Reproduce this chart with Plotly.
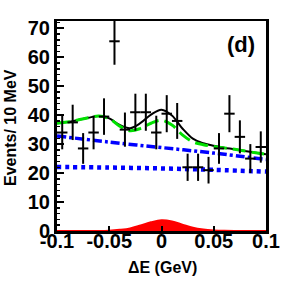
import plotly.graph_objects as go

# data points (bin centres, counts, errors)
bin_x = [-0.095, -0.085, -0.075, -0.065, -0.055, -0.045, -0.035, -0.025, -0.015, -0.005,
         0.005, 0.015, 0.025, 0.035, 0.045, 0.055, 0.065, 0.075, 0.085, 0.095]
counts = [34, 37.5, 28.5, 34, 39.5, 65.5, 35, 41, 41, 34,
          40.5, 38, 22, 22, 21, 28.5, 40.5, 32.5, 25, 29]
errors = [5.8, 6.1, 5.3, 5.8, 6.3, 8.1, 5.9, 6.4, 6.4, 5.8,
          6.4, 6.2, 4.7, 4.7, 4.6, 5.3, 6.4, 5.7, 5.0, 5.4]
half_bin = [0.005] * len(bin_x)

# fit curves
curve_x = [-0.10, -0.09, -0.08, -0.07, -0.06, -0.05, -0.04, -0.03, -0.02, -0.01, 0.00,
           0.01, 0.02, 0.03, 0.04, 0.05, 0.06, 0.07, 0.08, 0.09, 0.10]
green_y = [37.2, 37.6, 38.3, 39.1, 39.7, 38.8, 36.2, 34.6, 35.4, 37.2, 38.2,
           36.6, 33.2, 30.8, 29.8, 29.2, 28.7, 28.2, 27.6, 27.0, 26.5]
signal_y = [0, 0, 0, 0, 0, 0.1, 0.4, 0.9, 1.9, 3.0, 3.7,
            3.3, 2.2, 1.1, 0.5, 0.2, 0.05, 0, 0, 0, 0]
total_y = [g + s for g, s in zip(green_y, signal_y)]

bkg_x = [-0.1, -0.05, 0.0, 0.05, 0.1]
bkg_dashdot = [32.8, 30.7, 28.8, 26.9, 24.7]
bkg_dotted = [22.1, 21.9, 21.6, 21.1, 20.5]

xtick_vals = [-0.1, -0.05, 0, 0.05, 0.1]
xtick_text = ["-0.1", "-0.05", "0", "0.05", "0.1"]
ytick_vals = [0, 10, 20, 30, 40, 50, 60, 70]

FONT = "Liberation Sans"

fig = go.Figure()
fig.add_trace(go.Scatter(x=curve_x, y=signal_y, mode="lines", line=dict(color="red", width=2, shape="spline"),
                         fill="tozeroy", fillcolor="red", hoverinfo="skip"))
fig.add_trace(go.Scatter(x=bkg_x, y=bkg_dotted, mode="lines",
                         line=dict(color="blue", width=4.5, dash="4px,4px", shape="spline")))
fig.add_trace(go.Scatter(x=bkg_x, y=bkg_dashdot, mode="lines",
                         line=dict(color="blue", width=3.5, dash="9px,3px,3px,3px", shape="spline")))
fig.add_trace(go.Scatter(x=curve_x, y=total_y, mode="lines",
                         line=dict(color="black", width=2, shape="spline")))
fig.add_trace(go.Scatter(x=curve_x, y=green_y, mode="lines",
                         line=dict(color="#00e000", width=3, dash="13px,6px", shape="spline")))
fig.add_trace(go.Scatter(x=bin_x, y=counts, mode="markers",
                         marker=dict(color="black", size=1),
                         error_x=dict(type="data", array=half_bin, color="black", thickness=2, width=0),
                         error_y=dict(type="data", array=errors, color="black", thickness=2, width=0)))

fig.update_layout(
    width=288, height=288,
    margin=dict(l=57, r=22, t=21, b=57, autoexpand=False),
    plot_bgcolor="white", paper_bgcolor="white",
    showlegend=False,
    font=dict(family=FONT, color="black"),
    xaxis=dict(range=[-0.1, 0.1], tickvals=xtick_vals, ticktext=xtick_text,
               ticks="inside", ticklen=5, tickwidth=2, tickcolor="black",
               showline=True, linecolor="black", linewidth=2.5, mirror=True,
               showgrid=False, zeroline=False, automargin=False, ticklabelstandoff=-10,
               tickfont=dict(family=FONT, size=20, weight="bold")),
    yaxis=dict(range=[0, 72.5], tickvals=ytick_vals,
               ticks="inside", ticklen=7, tickwidth=2, tickcolor="black",
               minor=dict(dtick=2, ticks="inside", ticklen=3, tickwidth=1.5, tickcolor="black"),
               showline=True, linecolor="black", linewidth=3, mirror=True,
               showgrid=False, zeroline=False, automargin=False,
               tickfont=dict(family=FONT, size=20, weight="bold")),
    annotations=[
        dict(text="Events/ 10 MeV", xref="paper", yref="paper", x=-0.225, y=0.495,
             xanchor="center", yanchor="middle",
             textangle=-90, showarrow=False, font=dict(family=FONT, size=16, weight="bold")),
        dict(text="ΔE (GeV)", xref="paper", yref="paper", x=0.505, y=-0.176,
             xanchor="center", yanchor="middle",
             showarrow=False, font=dict(family=FONT, size=16, weight="bold")),
        dict(text="(d)", xref="paper", yref="paper", x=0.88, y=0.886,
             xanchor="center", yanchor="middle",
             showarrow=False, font=dict(family=FONT, size=22, weight="bold")),
    ],
)

fig.write_html("out.html", config={"displayModeBar": False, "staticPlot": True},
               post_script="document.body.style.margin='0';")
